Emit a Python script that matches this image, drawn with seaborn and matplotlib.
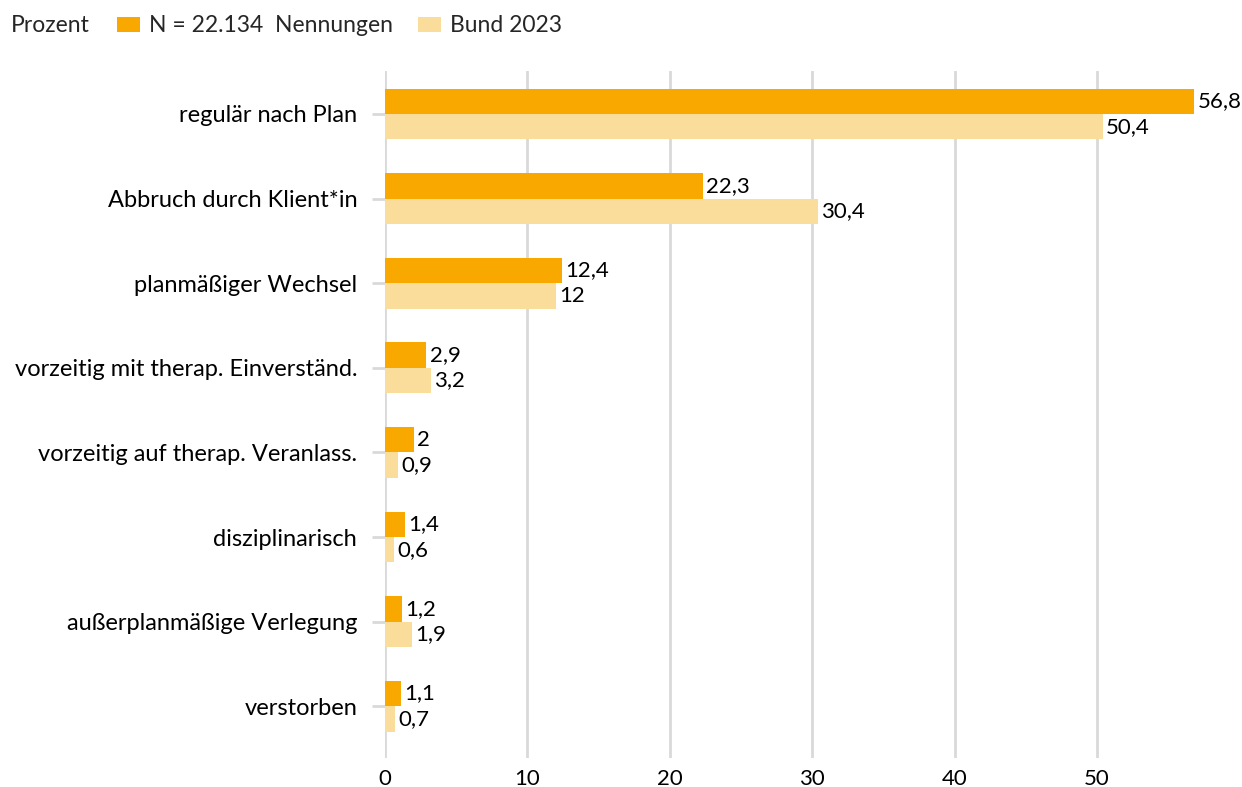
import matplotlib
matplotlib.use("Agg")
import matplotlib.pyplot as plt
from matplotlib.patches import Patch
import seaborn as sns
import pandas as pd

categories = [
    "regulär nach Plan",
    "Abbruch durch Klient*in",
    "planmäßiger Wechsel",
    "vorzeitig mit therap. Einverständ.",
    "vorzeitig auf therap. Veranlass.",
    "disziplinarisch",
    "außerplanmäßige Verlegung",
    "verstorben",
]
series_names = ["N = 22.134  Nennungen", "Bund 2023"]
values_n = [56.8, 22.3, 12.4, 2.9, 2.0, 1.4, 1.2, 1.1]
values_bund = [50.4, 30.4, 12.0, 3.2, 0.9, 0.6, 1.9, 0.7]
x_ticks = [0, 10, 20, 30, 40, 50]

colors = ["#F9A800", "#FADC9B"]
grid_color = "#D9D9D9"

df = pd.DataFrame({
    "Kategorie": categories * 2,
    "Serie": [series_names[0]] * len(categories) + [series_names[1]] * len(categories),
    "Prozent": values_n + values_bund,
})

sns.set_theme(style="white")
plt.rcParams["font.family"] = ["Lato", "DejaVu Sans"]

fig = plt.figure(figsize=(12.42, 7.87), dpi=100)
ax = fig.add_axes([0.31, 0.037, 0.688, 0.873])

sns.barplot(
    data=df, y="Kategorie", x="Prozent", hue="Serie",
    order=categories, hue_order=series_names,
    palette=colors, width=0.6, saturation=1, legend=False, ax=ax,
    linewidth=0, edgecolor="none",
)

ax.set_xlim(0, 60)
ax.set_ylim(7.61, -0.51)
ax.set_xticks(x_ticks)
ax.set_xticklabels([str(t) for t in x_ticks], fontsize=16, color="black")
ax.set_xlabel("")
ax.set_ylabel("")
ax.tick_params(axis="y", labelsize=17, labelcolor="black", length=9.5, width=2,
               color=grid_color, pad=10.5, left=True)
ax.tick_params(axis="x", length=0, pad=8)
for t in x_ticks:
    ax.axvline(t, color=grid_color, linewidth=2, zorder=0)
for s in ax.spines.values():
    s.set_visible(False)


def fmt(v):
    return str(int(v)) if float(v).is_integer() else f"{v:.1f}".replace(".", ",")


for container, vals in zip(ax.containers, [values_n, values_bund]):
    ax.bar_label(container, labels=[fmt(v) for v in vals], padding=2.5,
                 fontsize=16, color="black")

fig.text(0.009, 0.967, "Prozent", fontsize=16.5, va="center", ha="left")
handles = [Patch(facecolor=c, edgecolor="none") for c in colors]
fig.legend(handles, series_names, loc="center left", bbox_to_anchor=(0.094, 0.967),
           ncol=2, frameon=False, fontsize=16.5, handlelength=1.0, handleheight=0.6,
           handletextpad=0.4, columnspacing=1.1, borderaxespad=0, borderpad=0)

fig.savefig("out.png", dpi=100)
